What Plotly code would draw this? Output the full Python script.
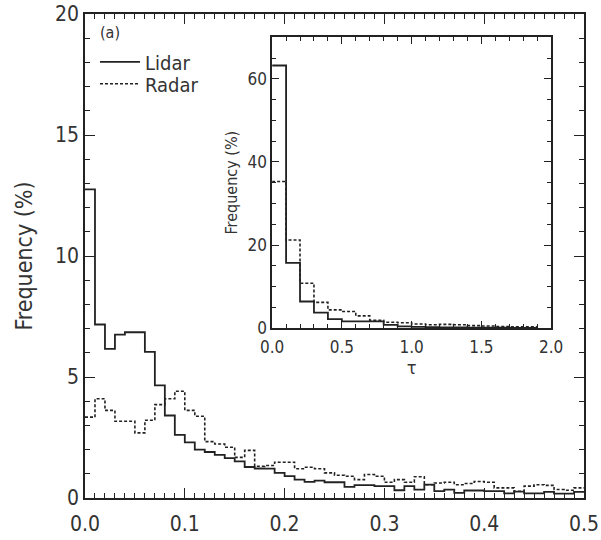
import plotly.graph_objects as go

# ---------------- data ----------------
main_bin_width = 0.01
lidar_main = [12.75, 7.17, 6.16, 6.75, 6.85, 6.85, 6.04, 4.65, 3.41, 2.61,
              2.30, 2.00, 1.90, 1.78, 1.65, 1.51, 1.28, 1.22, 1.21, 1.04,
              0.90, 0.76, 0.67, 0.72, 0.65, 0.65, 0.46, 0.53, 0.53, 0.49,
              0.49, 0.32, 0.49, 0.35, 0.55, 0.28, 0.35, 0.21, 0.31, 0.31,
              0.28, 0.28, 0.19, 0.26, 0.19, 0.19, 0.25, 0.18, 0.18, 0.25]
radar_main = [3.34, 4.10, 3.62, 3.17, 3.17, 2.69, 3.21, 3.86, 4.10, 4.41,
              3.62, 3.38, 2.33, 2.23, 2.10, 1.68, 1.97, 1.31, 1.34, 1.48,
              1.48, 1.21, 1.27, 1.21, 1.04, 0.94, 0.90, 0.76, 0.97, 0.90,
              0.65, 0.76, 0.65, 0.88, 0.55, 0.62, 0.65, 0.55, 0.60, 0.68,
              0.65, 0.42, 0.42, 0.28, 0.49, 0.55, 0.52, 0.35, 0.32, 0.42]

inset_bin_width = 0.1
lidar_inset = [63.2, 15.7, 6.4, 3.75, 2.15, 1.6, 1.6, 1.6, 0.8, 0.4,
               0.3, 0.25, 0.2, 0.15, 0.1, 0.1, 0.1, 0.05, 0.05]
radar_inset = [35.3, 21.2, 10.8, 6.2, 4.4, 4.0, 2.95, 1.9, 1.4, 1.3,
               1.0, 0.8, 0.9, 0.8, 0.6, 0.5, 0.4, 0.3, 0.3]

main_xticks = [0.0, 0.1, 0.2, 0.3, 0.4, 0.5]
main_yticks = [0, 5, 10, 15, 20]
inset_xticks = [0.0, 0.5, 1.0, 1.5, 2.0]
inset_yticks = [0, 20, 40, 60]


def steps(vals, w):
    xs = [round(i * w, 4) for i in range(len(vals) + 1)]
    ys = list(vals) + [vals[-1]]
    return xs, ys


LINE = "#222222"
TXT = "#333333"
FONT = "DejaVu Sans Condensed, Liberation Sans Narrow, sans-serif"

fig = go.Figure()

x, y = steps(lidar_main, main_bin_width)
fig.add_trace(go.Scatter(x=x, y=y, mode="lines", line=dict(shape="hv", color=LINE, width=1.8),
                         name="Lidar", legend="legend", xaxis="x", yaxis="y"))
x, y = steps(radar_main, main_bin_width)
fig.add_trace(go.Scatter(x=x, y=y, mode="lines", line=dict(shape="hv", color=LINE, width=1.6, dash="3px,2px"),
                         name="Radar", legend="legend2", xaxis="x", yaxis="y"))

x, y = steps(lidar_inset, inset_bin_width)
fig.add_trace(go.Scatter(x=x, y=y, mode="lines", line=dict(shape="hv", color=LINE, width=1.8),
                         showlegend=False, xaxis="x2", yaxis="y2"))
x, y = steps(radar_inset, inset_bin_width)
fig.add_trace(go.Scatter(x=x, y=y, mode="lines", line=dict(shape="hv", color=LINE, width=1.6, dash="3px,2px"),
                         showlegend=False, xaxis="x2", yaxis="y2"))

axis_common = dict(showline=True, linecolor=LINE, linewidth=1.6, mirror="ticks",
                   showgrid=False, zeroline=False, ticks="inside", tickcolor=LINE,
                   tickwidth=1.3, color=TXT, automargin=False)

legend_common = dict(xanchor="left", yanchor="middle", bgcolor="rgba(0,0,0,0)",
                     font=dict(size=20, color=TXT), itemwidth=40)

fig.update_layout(
    width=601, height=540,
    margin=dict(l=85, r=17, t=14, b=42),
    paper_bgcolor="white", plot_bgcolor="rgba(0,0,0,0)",
    font=dict(family=FONT, color=TXT),
    xaxis=dict(**axis_common, domain=[0, 1], range=[0, 0.5], tickvals=main_xticks,
               tickformat=".1f", ticklen=10, tickfont=dict(size=21), ticklabelstandoff=6,
               minor=dict(dtick=0.01, ticks="inside", ticklen=5, tickcolor=LINE, tickwidth=1.2)),
    yaxis=dict(**axis_common, domain=[0, 1], range=[0, 20], tickvals=main_yticks,
               ticklen=10, tickfont=dict(size=21),
               minor=dict(dtick=1, ticks="inside", ticklen=5, tickcolor=LINE, tickwidth=1.2),
               title=dict(text="Frequency (%)", font=dict(size=23), standoff=16)),
    xaxis2=dict(**axis_common, domain=[0.375, 0.934], anchor="y2", range=[0, 2.0],
                tickvals=inset_xticks, tickformat=".1f", ticklen=7, tickfont=dict(size=17),
                ticklabelstandoff=3,
                minor=dict(dtick=0.1, ticks="inside", ticklen=4, tickcolor=LINE, tickwidth=1.1),
                title=dict(text="τ", font=dict(size=18), standoff=2)),
    yaxis2=dict(**axis_common, domain=[0.351, 0.952], anchor="x2", range=[0, 70],
                tickvals=inset_yticks, ticklen=7, tickfont=dict(size=17),
                minor=dict(dtick=5, ticks="inside", ticklen=4, tickcolor=LINE, tickwidth=1.1),
                title=dict(text="Frequency (%)", font=dict(size=16), standoff=6)),
    legend=dict(x=0.02, y=0.901, **legend_common),
    legend2=dict(x=0.02, y=0.856, **legend_common),
    annotations=[dict(text="(a)", x=0.026, y=0.961, xref="paper", yref="paper",
                      xanchor="left", yanchor="middle", showarrow=False,
                      font=dict(size=16, color=TXT))],
)

fig.write_html("out.html")
